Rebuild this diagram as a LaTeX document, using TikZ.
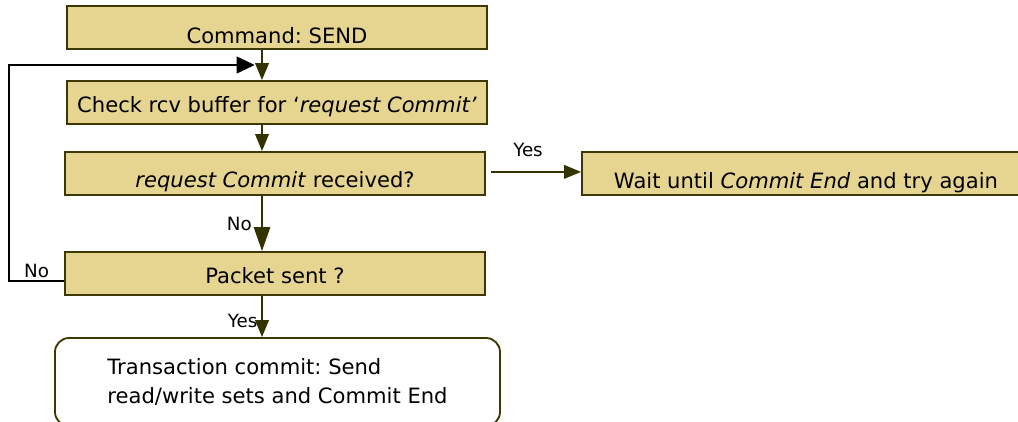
\documentclass[tikz,border=0pt]{standalone}
\usepackage{fontspec}
\setmainfont{DejaVu Sans}
\usetikzlibrary{arrows.meta,positioning,calc}
\frenchspacing
\definecolor{BoxFill}   {HTML}{E6D590}
\definecolor{OliveLine} {HTML}{3C3800}
\definecolor{OliveArrow}{HTML}{333300}
\tikzset{
  stepbox/.style={rectangle,draw=OliveLine,fill=BoxFill,line width=1.3pt,
                  minimum width=10.5cm,minimum height=1.075cm,inner ysep=0pt,
                  text height=#1,text depth=0.13cm,
                  font=\fontsize{15}{18}\selectfont},
  stepbox/.default=0.64cm,
  endbox/.style={rectangle,rounded corners=10pt,draw=OliveLine,fill=white,
                 line width=1.3pt,minimum width=11.125cm,minimum height=2.2cm,
                 align=left,font=\fontsize{15}{21}\selectfont},
  arr/.style={-{Triangle[length=12pt,width=9.5pt]},line width=1.5pt,color=OliveArrow},
  bigarr/.style={-{Triangle[length=17pt,width=11.5pt]},line width=1.5pt,color=OliveArrow},
  larr/.style={-{Triangle[length=13pt,width=12pt]},line width=1.3pt,color=black},
  lbl/.style={font=\fontsize{13}{15}\selectfont,text=black,inner sep=1.5pt},
}
\begin{document}
\begin{tikzpicture}
  \useasboundingbox (0,0) rectangle (25.45,10.525);

  \node[stepbox=0.936cm] (cmd)  at (6.925,9.8375) {Command: SEND};
  \node[stepbox]         (chk)  at (6.925,7.9625) {Check rcv buffer for `\textit{request Commit'}};
  \node[stepbox=0.84cm]  (rcv)  at (6.875,6.1875) {\textit{request Commit} received?};
  \node[stepbox]         (pkt)  at (6.875,3.6875) {Packet sent ?};
  \node[stepbox=0.90cm,minimum width=11.2cm]
                         (wait) at (20.15,6.1875) {Wait until \textit{Commit End} and try again};
  \node[endbox]          (trans) at (6.9375,0.975)
    {Transaction commit: Send\\read/write sets and Commit End};

  \coordinate (spine)   at (6.55,0);
  \coordinate (loopend) at (6.37,8.9);

  \draw[arr] (cmd.south -| spine) -- (chk.north -| spine);
  \draw[arr] (chk.south -| spine) -- (rcv.north -| spine);
  \draw[bigarr] (rcv.south -| spine) -- node[lbl,left=5pt] {No} (pkt.north -| spine);
  \draw[arr] (pkt.south -| spine) -- node[lbl,left=1pt,pos=0.62] {Yes} (trans.north -| spine);
  \draw[arr] ([xshift=0.125cm,yshift=0.04cm]rcv.east)
    -- node[lbl,above=0.3cm,xshift=-0.2cm] {Yes} ([yshift=0.04cm]wait.west);

  % loop back when the packet is not sent
  \draw[larr] ([yshift=-0.18cm]pkt.west) -- node[lbl,above] {No} ++(-1.375,0) |- (loopend);
\end{tikzpicture}
\end{document}
